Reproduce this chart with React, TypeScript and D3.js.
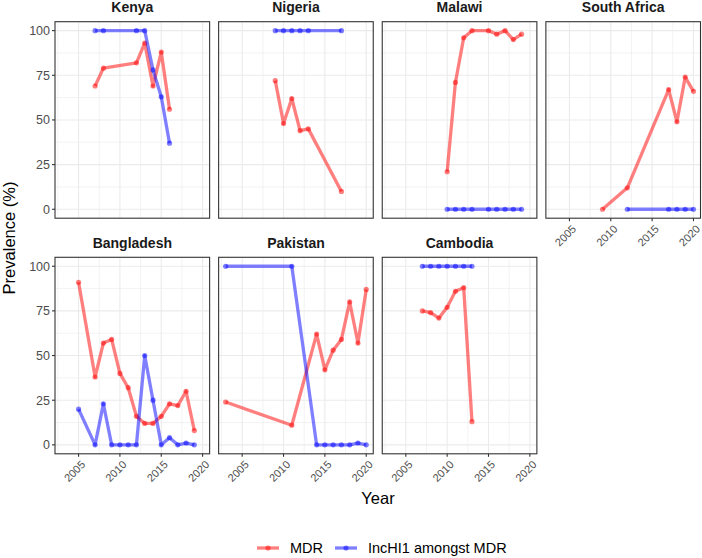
import React from "react";
import * as d3 from "d3";

// ---- data ----
const countries = ["Kenya", "Nigeria", "Malawi", "South Africa", "Bangladesh", "Pakistan", "Cambodia"];

const kenyaYears = [2007, 2008, 2012, 2013, 2014, 2015, 2016];
const kenyaMDR = [69, 79, 82, 93, 69, 88, 56];
const kenyaInc = [100, 100, 100, 100, 78, 63, 37];

const nigeriaYears = [2009, 2010, 2011, 2012, 2013, 2017];
const nigeriaMDR = [72, 48, 62, 44, 45, 10];
const nigeriaInc = [100, 100, 100, 100, 100, 100];

const malawiYears = [2010, 2011, 2012, 2013, 2015, 2016, 2017, 2018, 2019];
const malawiMDR = [21, 71, 96, 100, 100, 98, 100, 95, 98];
const malawiInc = [0, 0, 0, 0, 0, 0, 0, 0, 0];

const saMDRYears = [2009, 2012, 2017, 2018, 2019, 2020];
const saMDR = [0, 12, 67, 49, 74, 66];
const saIncYears = [2012, 2017, 2018, 2019, 2020];
const saInc = [0, 0, 0, 0, 0];

const bangladeshYears = [2005, 2007, 2008, 2009, 2010, 2011, 2012, 2013, 2014, 2015, 2016, 2017, 2018, 2019];
const bangladeshMDR = [91, 38, 57, 59, 40, 32, 16, 12, 12, 16, 23, 22, 30, 8];
const bangladeshInc = [20, 0, 23, 0, 0, 0, 0, 50, 25, 0, 4, 0, 1, 0];

const pakistanYears = [2003, 2011, 2014, 2015, 2016, 2017, 2018, 2019, 2020];
const pakistanMDR = [24, 11, 62, 42, 53, 59, 80, 57, 87];
const pakistanInc = [100, 100, 0, 0, 0, 0, 0, 1, 0];

const cambodiaYears = [2007, 2008, 2009, 2010, 2011, 2012, 2013];
const cambodiaMDR = [75, 74, 71, 77, 86, 88, 13];
const cambodiaInc = [100, 100, 100, 100, 100, 100, 100];

const xTicks = [2005, 2010, 2015, 2020];
const xMinor = [2002.5, 2007.5, 2012.5, 2017.5];
const yTicks = [0, 25, 50, 75, 100];
const yMinor = [12.5, 37.5, 62.5, 87.5];

const seriesNames = ["MDR", "IncHI1 amongst MDR"];
const seriesColors = ["#FF0000", "#0000FF"];

type Pt = { year: number; value: number };
const zip = (ys: number[], vs: number[]): Pt[] => ys.map((y, i) => ({ year: y, value: vs[i] }));

const panelData: Record<string, Pt[][]> = {
  Kenya: [zip(kenyaYears, kenyaMDR), zip(kenyaYears, kenyaInc)],
  Nigeria: [zip(nigeriaYears, nigeriaMDR), zip(nigeriaYears, nigeriaInc)],
  Malawi: [zip(malawiYears, malawiMDR), zip(malawiYears, malawiInc)],
  "South Africa": [zip(saMDRYears, saMDR), zip(saIncYears, saInc)],
  Bangladesh: [zip(bangladeshYears, bangladeshMDR), zip(bangladeshYears, bangladeshInc)],
  Pakistan: [zip(pakistanYears, pakistanMDR), zip(pakistanYears, pakistanInc)],
  Cambodia: [zip(cambodiaYears, cambodiaMDR), zip(cambodiaYears, cambodiaInc)],
};

// ---- layout ----
const W = 702;
const H = 558;
const left = 55;
const right = 700.5;
const gap = 9;
const pw = (right - left - 3 * gap) / 4;
const rowTops = [21.7, 257.3];
const ph = 196.5;
const FONT = "'Liberation Sans', Arial, Helvetica, sans-serif";

const xDomain: [number, number] = [2002.15, 2020.85];
const yDomain: [number, number] = [-5, 105];

export default function App() {
  const line = d3.line<Pt>();
  return (
    <svg width={W} height={H} style={{ position: "absolute", left: 0, top: 0, background: "#fff" }} fontFamily={FONT}>
      <rect x={0} y={0} width={W} height={H} fill="#fff" />
      {countries.map((c, i) => {
        const col = i % 4;
        const row = Math.floor(i / 4);
        const x0 = left + col * (pw + gap);
        const y0 = rowTops[row];
        const x = d3.scaleLinear().domain(xDomain).range([x0, x0 + pw]);
        const y = d3.scaleLinear().domain(yDomain).range([y0 + ph, y0]);
        const showX = row === 1 || col === 3;
        const showY = col === 0;
        line.x((d) => x(d.year)).y((d) => y(d.value));
        return (
          <g key={c}>
            <text x={x0 + pw / 2} y={y0 - 9.5} textAnchor="middle" fontWeight="bold" fontSize={14} fill="#1a1a1a">
              {c}
            </text>
            <rect x={x0} y={y0} width={pw} height={ph} fill="#fff" />
            {xMinor.map((t) => (
              <line key={"xm" + t} x1={x(t)} x2={x(t)} y1={y0} y2={y0 + ph} stroke="#EBEBEB" strokeWidth={0.6} />
            ))}
            {yMinor.map((t) => (
              <line key={"ym" + t} x1={x0} x2={x0 + pw} y1={y(t)} y2={y(t)} stroke="#EBEBEB" strokeWidth={0.6} />
            ))}
            {xTicks.map((t) => (
              <line key={"xM" + t} x1={x(t)} x2={x(t)} y1={y0} y2={y0 + ph} stroke="#EBEBEB" strokeWidth={1.1} />
            ))}
            {yTicks.map((t) => (
              <line key={"yM" + t} x1={x0} x2={x0 + pw} y1={y(t)} y2={y(t)} stroke="#EBEBEB" strokeWidth={1.1} />
            ))}
            {panelData[c].map((pts, si) => (
              <g key={si}>
                <path d={line(pts) || ""} fill="none" stroke={seriesColors[si]} strokeOpacity={0.5} strokeWidth={3.3} strokeLinejoin="round" />
                {pts.map((p, k) => (
                  <circle key={k} cx={x(p.year)} cy={y(p.value)} r={2.6} fill={seriesColors[si]} fillOpacity={0.5} />
                ))}
              </g>
            ))}
            <rect x={x0} y={y0} width={pw} height={ph} fill="none" stroke="#333333" strokeWidth={1.1} />
            {showY &&
              yTicks.map((t) => (
                <g key={"yt" + t}>
                  <line x1={x0 - 3} x2={x0} y1={y(t)} y2={y(t)} stroke="#333333" strokeWidth={1.1} />
                  <text x={x0 - 5} y={y(t)} dy="0.35em" textAnchor="end" fontSize={12.5} fill="#4D4D4D">
                    {t}
                  </text>
                </g>
              ))}
            {showX &&
              xTicks.map((t) => (
                <g key={"xt" + t}>
                  <line x1={x(t)} x2={x(t)} y1={y0 + ph} y2={y0 + ph + 3} stroke="#333333" strokeWidth={1.1} />
                  <text
                    transform={`translate(${x(t) + 2},${y0 + ph + 6}) rotate(-45)`}
                    textAnchor="end"
                    dy="0.7em"
                    fontSize={11}
                    fill="#4D4D4D"
                  >
                    {t}
                  </text>
                </g>
              ))}
          </g>
        );
      })}
      <text transform={`translate(15,238) rotate(-90)`} textAnchor="middle" fontSize={16.5} fill="#000">
        Prevalence (%)
      </text>
      <text x={378} y={504} textAnchor="middle" fontSize={16.5} fill="#000">
        Year
      </text>
      {seriesNames.map((n, i) => {
        const kx = [257, 335][i];
        return (
          <g key={n}>
            <line x1={kx} x2={kx + 22} y1={548} y2={548} stroke={seriesColors[i]} strokeOpacity={0.5} strokeWidth={3.3} />
            <circle cx={kx + 11} cy={548} r={2.6} fill={seriesColors[i]} fillOpacity={0.5} />
            <text x={kx + 33} y={548} dy="0.35em" fontSize={14.5} fill="#000">
              {n}
            </text>
          </g>
        );
      })}
    </svg>
  );
}
